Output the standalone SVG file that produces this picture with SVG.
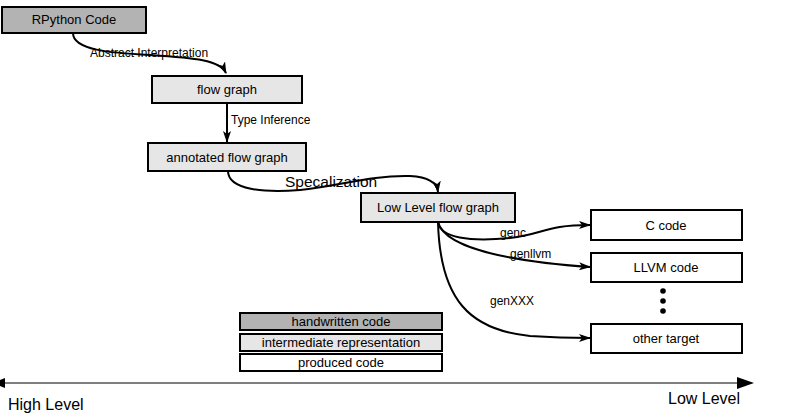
<svg xmlns="http://www.w3.org/2000/svg" width="795" height="420" viewBox="0 0 795 420">
<defs>
<marker id="ah" markerWidth="12" markerHeight="8" refX="11" refY="4" orient="auto" markerUnits="userSpaceOnUse">
<path d="M0,0 L12,4 L0,8 L3,4 Z" fill="#000"/>
</marker>
<style>
.box{stroke:#000;stroke-width:2}
.hw{fill:#b3b3b3}
.ir{fill:#e6e6e6}
.pc{fill:#fff}
.t{font-family:"Liberation Sans",Arial,sans-serif;font-size:13px;fill:#000;text-anchor:middle}
.lbl{font-family:"Liberation Sans",Arial,sans-serif;font-size:12px;fill:#000}
.big{font-family:"Liberation Sans",Arial,sans-serif;font-size:16px;fill:#000}
.c{fill:none;stroke:#000;stroke-width:2}
</style>
</defs>
<rect width="795" height="420" fill="#fff"/>
<g id="connectors">
<path class="c" d="M73,33 C73,50 110,53 150,55 C195,58 220,60 226,73" marker-end="url(#ah)"/>
<path class="c" d="M227,103 L227,142" marker-end="url(#ah)"/>
<path class="c" d="M228,171 C228,190 265,193 300,190 C340,186 370,175 410,176 C430,177 437,183 438,192" marker-end="url(#ah)"/>
<path class="c" d="M438,222 C440,238 470,242 510,238 C545,234 545,225 590,225" marker-end="url(#ah)"/>
<path class="c" d="M438,222 C445,250 520,262 590,267" marker-end="url(#ah)"/>
<path class="c" d="M438,222 C440,300 470,330 530,336 C560,338 575,338 590,338" marker-end="url(#ah)"/>
<path d="M0,383 L750,383" stroke="#000" stroke-width="1"/>
<path d="M737,377 L754,383 L737,389 Z" fill="#000"/>
<path d="M0,380 L5,378 L5,388 L0,386 Z" fill="#000"/>
</g>
<g id="rpython"><rect class="box hw" x="2" y="7" width="144" height="26"/><text class="t" x="74" y="24">RPython Code</text></g>
<g id="flowgraph"><rect class="box ir" x="152" y="76" width="150" height="27"/><text class="t" x="227" y="94">flow graph</text></g>
<g id="annotated"><rect class="box ir" x="148" y="143" width="158" height="28"/><text class="t" x="227" y="162">annotated flow graph</text></g>
<g id="lowlevel"><rect class="box ir" x="361" y="193" width="154" height="29"/><text class="t" x="438" y="212">Low Level flow graph</text></g>
<g id="ccode"><rect class="box pc" x="591" y="210" width="151" height="30"/><text class="t" x="666" y="230">C code</text></g>
<g id="llvmcode"><rect class="box pc" x="591" y="253" width="151" height="29"/><text class="t" x="666" y="272">LLVM code</text></g>
<g id="othertarget"><rect class="box pc" x="591" y="324" width="151" height="29"/><text class="t" x="666" y="343">other target</text></g>
<g id="dots"><circle cx="663" cy="291" r="2.8"/><circle cx="663" cy="301" r="2.8"/><circle cx="663" cy="311" r="2.8"/></g>
<g id="labels">
<text class="lbl" x="90" y="57">Abstract Interpretation</text>
<text class="lbl" x="231" y="124">Type Inference</text>
<text class="big" x="285" y="187" style="font-size:15.5px">Specalization</text>
<text class="lbl" x="500" y="237">genc</text>
<text class="lbl" x="510" y="258">genllvm</text>
<text class="lbl" x="490" y="305">genXXX</text>
</g>
<g id="legend">
<rect class="box hw" x="240" y="313" width="202" height="17"/><text class="t" x="341" y="326">handwritten code</text>
<rect class="box ir" x="240" y="334" width="202" height="17"/><text class="t" x="341" y="347">intermediate representation</text>
<rect class="box pc" x="240" y="354" width="202" height="17"/><text class="t" x="341" y="367">produced code</text>
</g>
<g id="axis-labels">
<text class="big" x="8" y="410">High Level</text>
<text class="big" x="668" y="404">Low Level</text>
</g>
</svg>
